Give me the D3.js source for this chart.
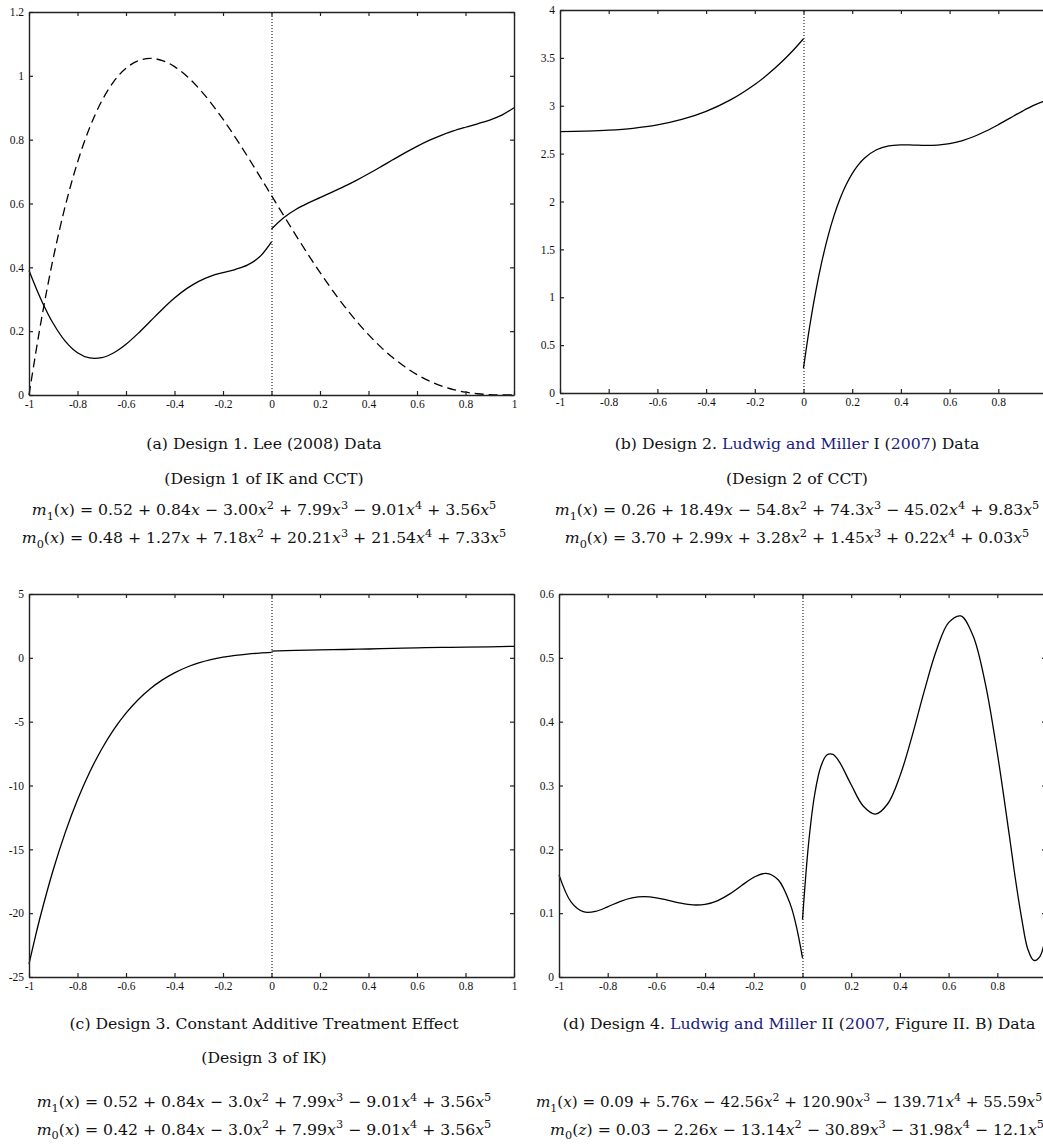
<!DOCTYPE html>
<html><head><meta charset="utf-8">
<script src="https://cdn.jsdelivr.net/npm/d3@7"></script>
<style>body{margin:0;background:#fff} svg{display:block}</style>
</head><body>
<svg id="fig" width="1043" height="1146"></svg>
<script>
// ---------------- data ----------------
const xTicks = [-1,-0.8,-0.6,-0.4,-0.2,0,0.2,0.4,0.6,0.8,1];
const xTickLabels = ["-1","-0.8","-0.6","-0.4","-0.2","0","0.2","0.4","0.6","0.8","1"];

// panel (a)
const aYTicks = [0,0.2,0.4,0.6,0.8,1,1.2];
const aYLabels = ["0","0.2","0.4","0.6","0.8","1","1.2"];
const aX0 = [-1,-0.95,-0.9,-0.85,-0.8,-0.75,-0.7,-0.65,-0.6,-0.55,-0.5,-0.45,-0.4,-0.35,-0.3,-0.25,-0.2,-0.15,-0.1,-0.05,0];
const aM0 = [0.39,0.2986,0.2239,0.1682,0.1326,0.1161,0.1170,0.1324,0.1590,0.1931,0.2309,0.2688,0.3037,0.3333,0.3562,0.3725,0.3836,0.3932,0.4067,0.4321,0.48];
const aX1 = [0,0.05,0.1,0.15,0.2,0.25,0.3,0.35,0.4,0.45,0.5,0.55,0.6,0.65,0.7,0.75,0.8,0.85,0.9,0.95,1];
const aM1 = [0.52,0.5554,0.5811,0.6012,0.6186,0.6356,0.6534,0.6726,0.6932,0.7148,0.7369,0.7585,0.7790,0.7975,0.8136,0.8273,0.8389,0.8497,0.8614,0.8769,0.90];
const aXD = [-1,-0.95,-0.9,-0.85,-0.8,-0.75,-0.7,-0.65,-0.6,-0.55,-0.5,-0.45,-0.4,-0.35,-0.3,-0.25,-0.2,-0.15,-0.1,-0.05,0,0.05,0.1,0.15,0.2,0.25,0.3,0.35,0.4,0.45,0.5,0.55,0.6,0.65,0.7,0.75,0.8,0.85,0.9,0.95,1];
const aDens = [0,0.2317,0.4287,0.5936,0.729,0.8374,0.9212,0.9827,1.024,1.0473,1.0547,1.0480,1.029,0.9995,0.9612,0.9155,0.864,0.8080,0.7487,0.6873,0.625,0.5627,0.5012,0.4414,0.384,0.3296,0.2787,0.2317,0.189,0.1508,0.1172,0.0883,0.064,0.0442,0.0287,0.0171,0.009,0.0039,0.0012,0.0002,0];

// panel (b)
const bYTicks = [0,0.5,1,1.5,2,2.5,3,3.5,4];
const bYLabels = ["0","0.5","1","1.5","2","2.5","3","3.5","4"];
const bX0 = [-1,-0.9,-0.8,-0.7,-0.6,-0.5,-0.4,-0.3,-0.2,-0.15,-0.1,-0.05,0];
const bM0 = [2.73,2.7354,2.7451,2.7646,2.7998,2.8566,2.9413,3.0608,3.2220,3.3205,3.4324,3.5585,3.70];
const bX1 = [0,0.025,0.05,0.075,0.1,0.125,0.15,0.175,0.2,0.225,0.25,0.3,0.35,0.4,0.45,0.5,0.55,0.6,0.65,0.7,0.75,0.8,0.85,0.9,0.95,1];
const bM1 = [0.26,0.6891,1.0565,1.3684,1.6309,1.8494,2.0292,2.1751,2.2915,2.3826,2.4522,2.5403,2.5802,2.5914,2.5894,2.5859,2.5893,2.6046,2.6344,2.6787,2.7359,2.8025,2.8739,2.9446,3.0087,3.06];

// panel (c)
const cYTicks = [-25,-20,-15,-10,-5,0,5];
const cYLabels = ["-25","-20","-15","-10","-5","0","5"];
const cX0 = [-1,-0.975,-0.95,-0.9,-0.85,-0.8,-0.75,-0.7,-0.65,-0.6,-0.55,-0.5,-0.45,-0.4,-0.35,-0.3,-0.25,-0.2,-0.15,-0.1,-0.05,0];
const cM0 = [-23.98,-21.935,-20.029,-16.604,-13.651,-11.120,-8.964,-7.140,-5.609,-4.334,-3.283,-2.423,-1.729,-1.175,-0.738,-0.399,-0.141,0.053,0.195,0.297,0.369,0.42];
const cX1 = [0,0.1,0.2,0.3,0.4,0.5,0.6,0.7,0.8,0.9,1];
const cM1 = [0.52,0.5811,0.6186,0.6534,0.6932,0.7369,0.7790,0.8136,0.8389,0.8614,0.90];

// panel (d)
const dYTicks = [0,0.1,0.2,0.3,0.4,0.5,0.6];
const dYLabels = ["0","0.1","0.2","0.3","0.4","0.5","0.6"];
const dX0 = [-1,-0.95,-0.9,-0.85,-0.8,-0.75,-0.7,-0.65,-0.6,-0.55,-0.5,-0.45,-0.4,-0.35,-0.3,-0.25,-0.2,-0.15,-0.1,-0.05,-0.025,0];
const dM0 = [0.16,0.1173,0.1023,0.1028,0.11,0.1182,0.1239,0.1258,0.1241,0.1201,0.1156,0.1129,0.1138,0.1194,0.1298,0.1433,0.1562,0.1623,0.1524,0.1138,0.0788,0.03];
const dX1 = [0,0.025,0.05,0.075,0.1,0.125,0.15,0.2,0.25,0.3,0.35,0.4,0.45,0.5,0.55,0.6,0.65,0.7,0.75,0.8,0.85,0.875,0.9,0.925,0.95,0.975,1];
const dM1 = [0.09,0.2092,0.2859,0.3293,0.3479,0.3487,0.3379,0.3011,0.2676,0.2553,0.2714,0.3147,0.3774,0.4478,0.5118,0.5551,0.5656,0.5349,0.4613,0.3509,0.2202,0.1520,0.0920,0.0440,0.0260,0.0320,0.07];

// captions ({...} = blue link text, _d subscript, ^d superscript)
const capA = ["(a) Design 1. Lee (2008) Data", "(Design 1 of IK and CCT)",
  "m_1(x) = 0.52 + 0.84x − 3.00x^2 + 7.99x^3 − 9.01x^4 + 3.56x^5",
  "m_0(x) = 0.48 + 1.27x + 7.18x^2 + 20.21x^3 + 21.54x^4 + 7.33x^5"];
const capB = ["(b) Design 2. {Ludwig and Miller} I ({2007}) Data", "(Design 2 of CCT)",
  "m_1(x) = 0.26 + 18.49x − 54.8x^2 + 74.3x^3 − 45.02x^4 + 9.83x^5",
  "m_0(x) = 3.70 + 2.99x + 3.28x^2 + 1.45x^3 + 0.22x^4 + 0.03x^5"];
const capC = ["(c) Design 3. Constant Additive Treatment Effect", "(Design 3 of IK)",
  "m_1(x) = 0.52 + 0.84x − 3.0x^2 + 7.99x^3 − 9.01x^4 + 3.56x^5",
  "m_0(x) = 0.42 + 0.84x − 3.0x^2 + 7.99x^3 − 9.01x^4 + 3.56x^5"];
const capD = ["(d) Design 4. {Ludwig and Miller} II ({2007}, Figure II. B) Data", "",
  "m_1(x) = 0.09 + 5.76x − 42.56x^2 + 120.90x^3 − 139.71x^4 + 55.59x^5",
  "m_0(z) = 0.03 − 2.26x − 13.14x^2 − 30.89x^3 − 31.98x^4 − 12.1x^5"];

// ---------------- drawing ----------------
const svg = d3.select("#fig");
const WIDTH = 1043;
const BLUE = "#1b1b7e";
const zip = (xs, ys) => xs.map((v, i) => [v, ys[i]]);

const panels = [
  {box:[29,514,12,395], yDom:[0,1.2], yT:aYTicks, yL:aYLabels,
   series:[{d:zip(aX0,aM0)},{d:zip(aX1,aM1)},{d:zip(aXD,aDens),dash:"9,5"}],
   cx:[264,264,264,264], fs:[15.7,15.7,15.7,15.7], cap:capA, capY:[448.5,483.5,515,543]},
  {box:[560,1047,10,393], yDom:[0,4], yT:bYTicks, yL:bYLabels,
   series:[{d:zip(bX0,bM0)},{d:zip(bX1,bM1)}],
   cx:[797,797,797,797], fs:[15.7,15.7,15.7,15.7], cap:capB, capY:[448.5,483.5,515,543]},
  {box:[29,514,594,977], yDom:[-25,5], yT:cYTicks, yL:cYLabels,
   series:[{d:zip(cX0,cM0)},{d:zip(cX1,cM1)}],
   cx:[264,264,264,264], fs:[15.7,15.7,15.7,15.7], cap:capC, capY:[1028.5,1062.5,1107,1134.5]},
  {box:[559,1046,594,977], yDom:[0,0.6], yT:dYTicks, yL:dYLabels,
   series:[{d:zip(dX0,dM0)},{d:zip(dX1,dM1)}],
   cx:[799,799,789,797], fs:[15.7,15.7,15.15,15.7], cap:capD, capY:[1028.5,1062.5,1107,1134.5]}
];

function styleAxis(g){
  g.attr("font-family","'Liberation Serif', serif").attr("font-size",11.5);
  g.select(".domain").attr("stroke","#222").attr("stroke-width",1.4);
  g.selectAll(".tick line").attr("stroke","#222").attr("stroke-width",1.2);
  g.selectAll(".tick text").attr("fill","#111");
}

function rich(textSel, str, isEq){
  let shift = 0;
  function add(t, o){
    const ts = textSel.append("tspan").text(t);
    const target = o.sub ? 4.5 : (o.sup ? -6.5 : 0);
    if (target !== shift){ ts.attr("dy", target - shift); shift = target; }
    if (o.sub || o.sup) ts.attr("font-size", "0.72em");
    if (o.it) ts.attr("font-style", "italic");
    if (o.blue) ts.attr("fill", BLUE);
  }
  if (!isEq){
    const re = /\{([^}]*)\}|([^{}]+)/g; let m;
    while ((m = re.exec(str))){ if (m[1] !== undefined) add(m[1], {blue:true}); else add(m[2], {}); }
  } else {
    const re = /_(\d)|\^(\d)|([mxz])|([^_^mxz]+)/g; let m;
    while ((m = re.exec(str))){
      if (m[1] !== undefined) add(m[1], {sub:true});
      else if (m[2] !== undefined) add(m[2], {sup:true});
      else if (m[3] !== undefined) add(m[3], {it:true});
      else add(m[4], {});
    }
  }
}

panels.forEach(p => {
  const [L, R, T, B] = p.box;
  const x = d3.scaleLinear().domain([-1, 1]).range([L, R]);
  const y = d3.scaleLinear().domain(p.yDom).range([B, T]);
  const g = svg.append("g");

  // dotted cutoff line
  g.append("line").attr("x1", x(0) + 0.5).attr("x2", x(0) + 0.5)
    .attr("y1", y(p.yDom[0])).attr("y2", y(p.yDom[1]))
    .attr("stroke", "#000").attr("stroke-width", 1).attr("stroke-dasharray", "1,2");

  // curves
  const line = d3.line().x(d => x(d[0])).y(d => y(d[1])).curve(d3.curveCatmullRom.alpha(0.5));
  p.series.forEach(s => {
    g.append("path").attr("d", line(s.d)).attr("fill", "none")
      .attr("stroke", "#000").attr("stroke-width", 1.3)
      .attr("stroke-dasharray", s.dash || null);
  });

  // axes (inward ticks on all four sides); labels beyond the page edge are not shown
  g.append("g").attr("transform", `translate(0,${B})`)
    .call(d3.axisBottom(x).tickValues(xTicks)
      .tickFormat((d, i) => x(d) + 3 > WIDTH ? "" : xTickLabels[i])
      .tickSizeInner(-4).tickSizeOuter(0).tickPadding(5))
    .call(styleAxis);
  g.append("g").attr("transform", `translate(0,${T})`)
    .call(d3.axisTop(x).tickValues(xTicks).tickFormat("").tickSizeInner(-4).tickSizeOuter(0))
    .call(styleAxis);
  g.append("g").attr("transform", `translate(${L},0)`)
    .call(d3.axisLeft(y).tickValues(p.yT).tickFormat((d, i) => p.yL[i]).tickSizeInner(-4).tickSizeOuter(0).tickPadding(5))
    .call(styleAxis);
  g.append("g").attr("transform", `translate(${R},0)`)
    .call(d3.axisRight(y).tickValues(p.yT).tickFormat("").tickSizeInner(-4).tickSizeOuter(0))
    .call(styleAxis);

  // captions
  p.cap.forEach((c, i) => {
    if (!c) return;
    const t = svg.append("text").attr("x", p.cx[i]).attr("y", p.capY[i])
      .attr("text-anchor", "middle").attr("font-family", "'DejaVu Serif', serif")
      .attr("font-size", p.fs[i]).attr("fill", "#111").style("white-space", "pre");
    rich(t, c, i >= 2);
  });
});
</script>
</body></html>
